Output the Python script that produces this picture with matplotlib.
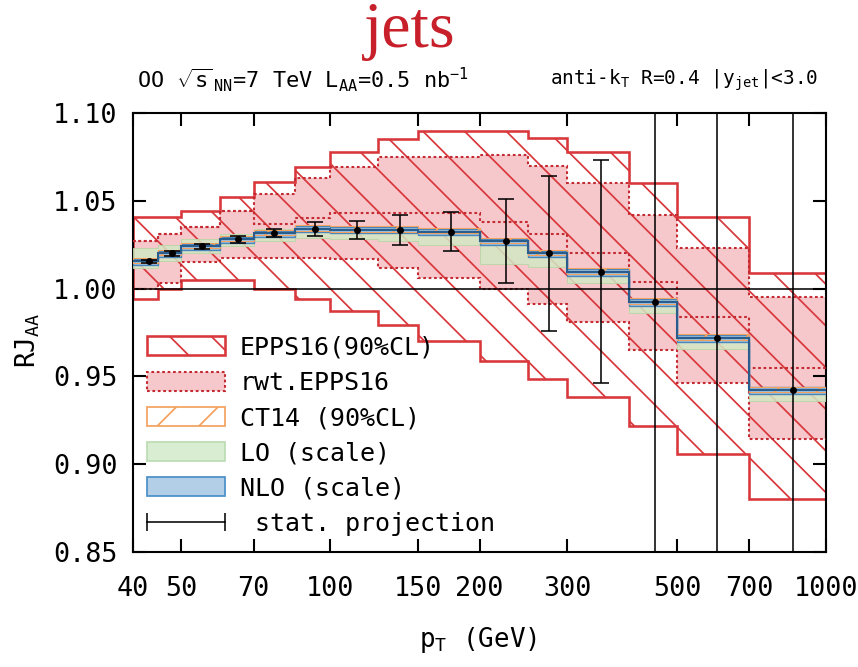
import matplotlib
matplotlib.use("Agg")
import matplotlib.pyplot as plt
from matplotlib.patches import Patch
from matplotlib.lines import Line2D
from matplotlib.legend_handler import HandlerLine2D
from matplotlib.ticker import NullLocator

# pT bin edges (GeV) and position of the stat. projection points
edges = [40, 45, 50, 60, 70, 85, 100, 125, 150, 200, 250, 300, 400, 500, 700, 1000]
pt_points = [43, 48, 55, 65, 77, 93, 113, 138, 175, 226, 276, 351, 451, 601, 855]

# NLO central value and scale band
nlo_c = [1.0155, 1.0200, 1.0240, 1.0280, 1.0315, 1.0340, 1.0335, 1.0335, 1.0325, 1.0270, 1.0200, 1.0095, 0.9925, 0.9720, 0.9420]
nlo_hi = [1.0170, 1.0215, 1.0255, 1.0295, 1.0330, 1.0355, 1.0350, 1.0350, 1.0340, 1.0285, 1.0215, 1.0110, 0.9940, 0.9735, 0.9437]
nlo_lo = [1.0135, 1.0180, 1.0220, 1.0260, 1.0295, 1.0320, 1.0315, 1.0315, 1.0305, 1.0250, 1.0180, 1.0070, 0.9900, 0.9695, 0.9400]
# LO scale band
lo_hi = [1.0230, 1.0250, 1.0280, 1.0310, 1.0340, 1.0350, 1.0340, 1.0330, 1.0320, 1.0260, 1.0180, 1.0080, 0.9910, 0.9700, 0.9400]
lo_lo = [1.0120, 1.0160, 1.0200, 1.0240, 1.0270, 1.0290, 1.0280, 1.0270, 1.0250, 1.0140, 1.0125, 1.0030, 0.9860, 0.9655, 0.9360]
# CT14 (90%CL)
ct14_hi = [1.0175, 1.0220, 1.0260, 1.0300, 1.0335, 1.0360, 1.0355, 1.0355, 1.0345, 1.0290, 1.0220, 1.0115, 0.9945, 0.9740, 0.9440]
ct14_lo = [1.0145, 1.0190, 1.0230, 1.0270, 1.0305, 1.0330, 1.0325, 1.0325, 1.0315, 1.0260, 1.0190, 1.0085, 0.9915, 0.9710, 0.9410]
# EPPS16 (90%CL)
epps_hi = [1.041, 1.041, 1.044, 1.052, 1.0605, 1.069, 1.078, 1.085, 1.090, 1.090, 1.086, 1.078, 1.060, 1.041, 1.009]
epps_lo = [0.994, 1.000, 1.005, 1.005, 1.000, 0.994, 0.987, 0.979, 0.970, 0.959, 0.9485, 0.938, 0.922, 0.906, 0.880]
# reweighted EPPS16
rwt_hi = [1.027, 1.031, 1.035, 1.044, 1.054, 1.063, 1.069, 1.075, 1.075, 1.076, 1.070, 1.060, 1.042, 1.023, 0.995]
rwt_mid = [1.027, 1.031, 1.035, 1.044, 1.037, 1.040, 1.043, 1.043, 1.043, 1.038, 1.031, 1.020, 1.004, 0.984, 0.955]
rwt_lo = [1.000, 1.003, 1.015, 1.0176, 1.0176, 1.0176, 1.0166, 1.012, 1.006, 0.9996, 0.991, 0.981, 0.965, 0.946, 0.9145]
# statistical projection
stat_err = [0.001, 0.0013, 0.0012, 0.0019, 0.0023, 0.0038, 0.005, 0.0086, 0.011, 0.024, 0.044, 0.0635, 0.18, 0.22, 0.28]

xticks = [40, 50, 70, 100, 150, 200, 300, 500, 700, 1000]
yticks = [0.85, 0.90, 0.95, 1.00, 1.05, 1.10]

red = "#d8383c"
dred = "#c42a32"
pink = "#f7c8cb"

DPI = 250
plt.rcParams.update({
    "font.family": "DejaVu Sans Mono",
    "mathtext.fontset": "custom",
    "mathtext.rm": "DejaVu Sans Mono",
    "mathtext.it": "DejaVu Sans Mono",
    "mathtext.bf": "DejaVu Sans Mono:bold",
    "hatch.linewidth": 0.5,
})

fig = plt.figure(figsize=(858 / DPI, 667 / DPI), dpi=DPI)
ax = fig.add_axes([0.155, 0.1724, 0.808, 0.6582])

# bands
ax.stairs(rwt_hi, edges, baseline=rwt_lo, fill=True, facecolor=pink, edgecolor="none", zorder=1)
ax.stairs(epps_hi, edges, baseline=epps_lo, fill=True, facecolor="none", edgecolor=red,
          hatch="\\\\", lw=0.75, zorder=2)
dots = (0, (1.3, 1.3))
for v in (rwt_hi, rwt_mid, rwt_lo):
    ax.stairs(v, edges, baseline=None, color=dred, ls=dots, lw=0.6, zorder=3)
ax.stairs(lo_hi, edges, baseline=lo_lo, fill=True, facecolor="#d3e8c4", edgecolor="#b9d6a8",
          alpha=0.85, lw=0.3, zorder=4)
ax.stairs(nlo_hi, edges, baseline=nlo_lo, fill=True, facecolor="#9ec1de", edgecolor="#4a86bb",
          lw=0.4, zorder=5)
ax.stairs(ct14_hi, edges, baseline=ct14_lo, fill=True, facecolor="none", edgecolor="#f3a15e",
          hatch="//", lw=0.3, zorder=6)
ax.stairs(nlo_c, edges, baseline=None, color="#2b5d8c", lw=0.6, zorder=7)

ax.axhline(1.0, color="k", lw=0.45, zorder=8)
ax.errorbar(pt_points, nlo_c, yerr=stat_err, fmt="o", ms=1.0, color="k", elinewidth=0.45,
            capsize=2.2, capthick=0.45, zorder=9)

ax.set_xscale("log")
ax.set_xlim(40, 1000)
ax.set_ylim(0.85, 1.10)
ax.set_xticks(xticks)
ax.set_xticklabels([str(t) for t in xticks])
ax.xaxis.set_minor_locator(NullLocator())
ax.set_yticks(yticks)
ax.set_yticklabels(["%.2f" % t for t in yticks])
ax.tick_params(which="both", direction="in", top=True, right=True, length=3.7, width=0.6,
               labelsize=7.7)
ax.tick_params(axis="x", pad=7)
ax.tick_params(axis="y", pad=4.5)
for s in ax.spines.values():
    s.set_linewidth(0.6)

# legend
handles = [
    Patch(facecolor="white", edgecolor=red, hatch="\\\\", lw=0.75),
    Patch(facecolor=pink, edgecolor=dred, ls=(0, (1.3, 1.3)), lw=0.6),
    Patch(facecolor="white", edgecolor="#f3a15e", hatch="//", lw=0.5),
    Patch(facecolor="#d9edd2", edgecolor="#bcdcb2", lw=0.5),
    Patch(facecolor="#b3cfe7", edgecolor="#4a90c8", lw=0.5),
    Line2D([], [], color="k", lw=0.45, marker="|", ms=5, mew=0.45),
]
labels = ["EPPS16(90%CL)", "rwt.EPPS16", "CT14 (90%CL)", "LO (scale)", "NLO (scale)",
          " stat. projection"]
ax.legend(handles, labels, loc="upper left", bbox_to_anchor=(0.01, 0.51), frameon=False,
          fontsize=7.2, handlelength=3.1, handleheight=0.8, labelspacing=0.45,
          handletextpad=0.6, borderaxespad=0, borderpad=0.3,
          handler_map={handles[-1]: HandlerLine2D(numpoints=2, marker_pad=0)})

# texts
fig.text(0.478, 0.953, "jets", color="#c8202a", family="Liberation Serif", fontsize=19,
         ha="center", va="center")
fig.text(137 / 858, 1 - 80 / 667,
         r"OO $\sqrt{\mathrm{s}}_{\ \mathrm{NN}}$=7 TeV L$_{\mathrm{AA}}$=0.5 nb$^{-1}$",
         fontsize=6.3, ha="left", va="center")
fig.text(818 / 858, 1 - 80 / 667,
         r"anti-k$_{\mathrm{T}}$ R=0.4 |y$_{\mathrm{jet}}$|<3.0",
         fontsize=5.6, ha="right", va="center")
fig.text(28 / 858, 1 - 340 / 667, r"RJ$_{\mathrm{AA}}$", rotation=90,
         fontsize=7.5, ha="center", va="center")
fig.text(478 / 858, 1 - 640 / 667, r"p$_{\mathrm{T}}$ (GeV)", fontsize=7.5,
         ha="center", va="center")

fig.savefig("out.png", dpi=DPI)
